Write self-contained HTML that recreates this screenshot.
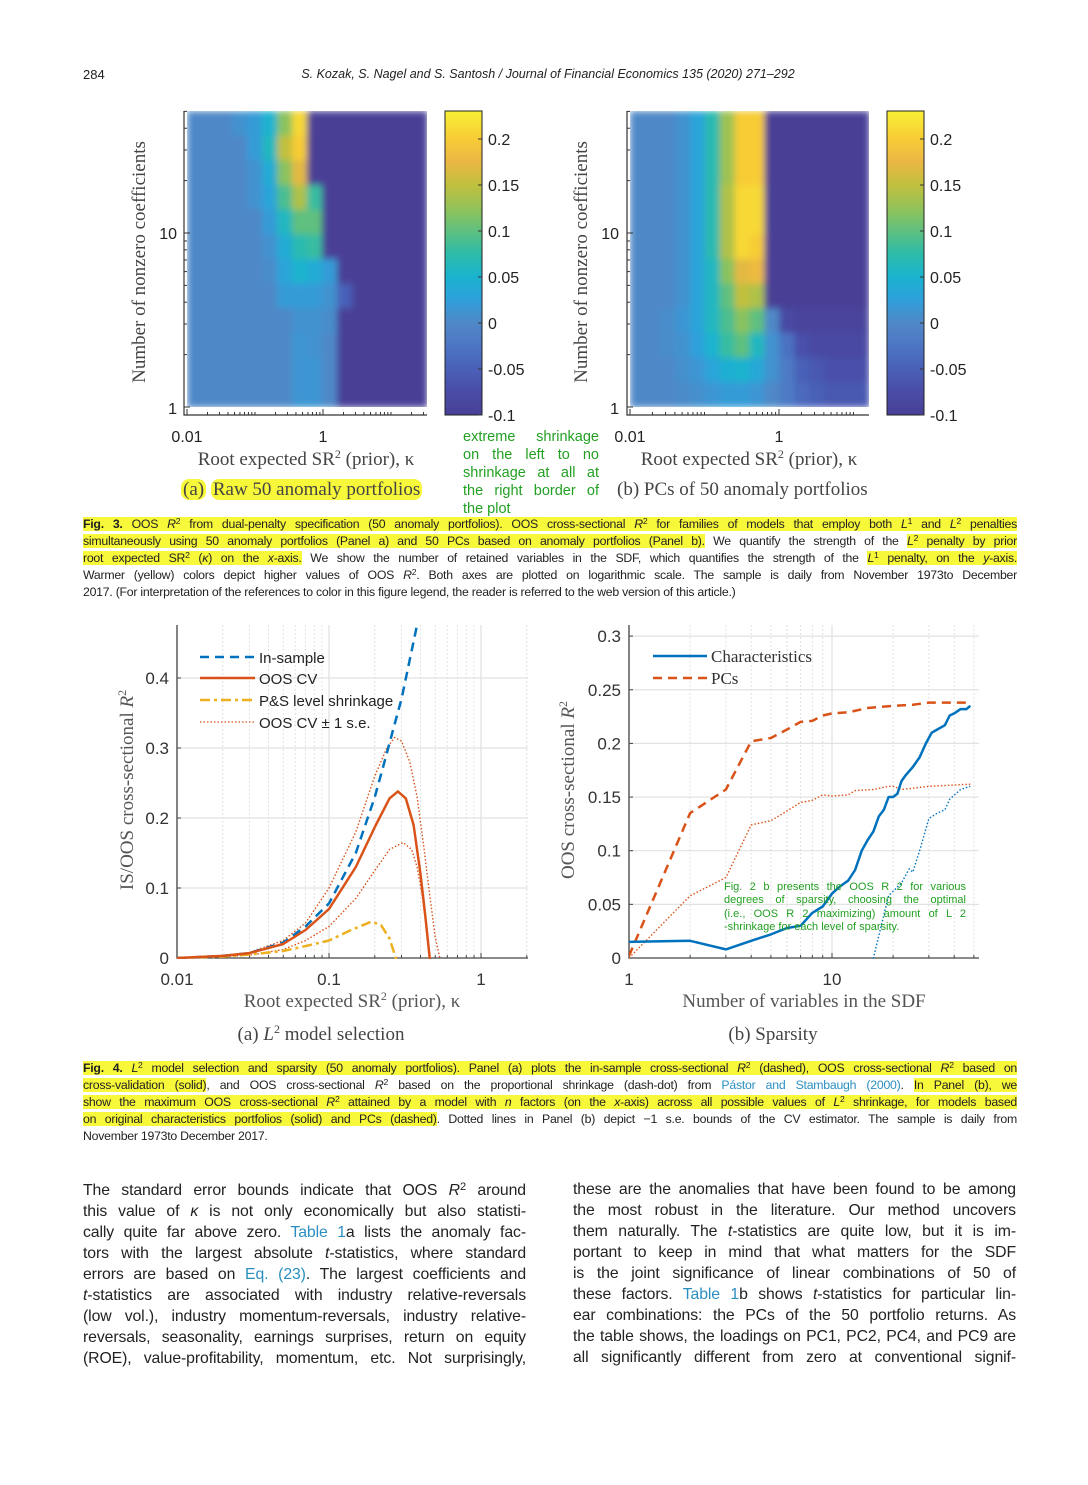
<!DOCTYPE html>
<html><head><meta charset="utf-8">
<style>
html,body{margin:0;padding:0;background:#fff;}
body{width:1088px;height:1485px;position:relative;overflow:hidden;font-family:"Liberation Sans",sans-serif;color:#222;}
.abs{position:absolute;}
sup{font-size:70%;line-height:0;vertical-align:0.45em;}
.cap{position:absolute;left:83px;width:934px;font-size:12.3px;letter-spacing:-0.25px;line-height:17px;height:17px;white-space:nowrap;text-align:justify;text-align-last:justify;color:#222;}
.cap.last{text-align:left;text-align-last:left;}
.hl{background:#f8f83a;}
.body{position:absolute;width:443px;font-size:15.8px;letter-spacing:-0.1px;line-height:20.9px;height:21px;white-space:nowrap;text-align:justify;text-align-last:justify;color:#222;}
.lnk{color:#2a8fc0;}
.green{position:absolute;color:#22a022;font-size:14.5px;line-height:18px;width:136px;white-space:nowrap;text-align:justify;text-align-last:justify;}
svg text{font-family:"Liberation Sans",sans-serif;}
</style></head>
<body>
<div class="abs" style="left:83px;top:67px;font-size:13px;">284</div>
<div class="abs" style="left:0;width:1088px;top:67px;font-size:12.5px;font-style:italic;text-align:center;padding-left:8px;box-sizing:border-box;">S. Kozak, S. Nagel and S. Santosh / Journal of Financial Economics 135 (2020) 271–292</div>

<svg id="fig" width="1088" height="1485" style="position:absolute;left:0;top:0;">
<defs>
<clipPath id="clipA"><rect x="177" y="622" width="352" height="337"/></clipPath>
<clipPath id="clipB"><rect x="629" y="622" width="351" height="337"/></clipPath>
<clipPath id="clipHA"><rect x="187" y="111" width="240" height="296"/></clipPath>
<clipPath id="clipHB"><rect x="630" y="111" width="239" height="296"/></clipPath>
<filter id="soft" x="-5%" y="-5%" width="110%" height="110%"><feGaussianBlur stdDeviation="3.5" edgeMode="duplicate"/></filter>
<linearGradient id="cbar" x1="0" y1="1" x2="0" y2="0"></linearGradient>
</defs>
<g id="heatA"></g>
<g id="heatB"></g>
<g id="chartA"></g>
<g id="chartB"></g>

<text transform="translate(145,262) rotate(-90)" text-anchor="middle" style="font-family:'Liberation Serif',serif" font-size="19" fill="#444">Number of nonzero coefficients</text>
<text x="177" y="239" text-anchor="end" font-size="16" fill="#222">10</text>
<text x="177" y="414" text-anchor="end" font-size="16" fill="#222">1</text>
<text x="187" y="442" text-anchor="middle" font-size="16" fill="#222">0.01</text>
<text x="323" y="442" text-anchor="middle" font-size="16" fill="#222">1</text>
<text x="306" y="465" text-anchor="middle" style="font-family:'Liberation Serif',serif" font-size="19" fill="#444">Root expected SR<tspan dy="-7" font-size="12">2</tspan><tspan dy="7"> (prior), κ</tspan></text>
<text transform="translate(587,262) rotate(-90)" text-anchor="middle" style="font-family:'Liberation Serif',serif" font-size="19" fill="#444">Number of nonzero coefficients</text>
<text x="619" y="239" text-anchor="end" font-size="16" fill="#222">10</text>
<text x="619" y="414" text-anchor="end" font-size="16" fill="#222">1</text>
<text x="630" y="442" text-anchor="middle" font-size="16" fill="#222">0.01</text>
<text x="779" y="442" text-anchor="middle" font-size="16" fill="#222">1</text>
<text x="749" y="465" text-anchor="middle" style="font-family:'Liberation Serif',serif" font-size="19" fill="#444">Root expected SR<tspan dy="-7" font-size="12">2</tspan><tspan dy="7"> (prior), κ</tspan></text>

<text transform="translate(133,790) rotate(-90)" text-anchor="middle" style="font-family:'Liberation Serif',serif" font-size="19" fill="#555">IS/OOS cross-sectional <tspan font-style="italic">R</tspan><tspan dy="-7" font-size="12">2</tspan></text>
<text x="352" y="1007" text-anchor="middle" style="font-family:'Liberation Serif',serif" font-size="19" fill="#555">Root expected SR<tspan dy="-7" font-size="12">2</tspan><tspan dy="7"> (prior), κ</tspan></text>
<text x="321" y="1040" text-anchor="middle" style="font-family:'Liberation Serif',serif" font-size="19" fill="#444">(a) <tspan font-style="italic">L</tspan><tspan dy="-7" font-size="12">2</tspan><tspan dy="7"> model selection</tspan></text>
<text transform="translate(574,790) rotate(-90)" text-anchor="middle" style="font-family:'Liberation Serif',serif" font-size="19" fill="#555">OOS cross-sectional <tspan font-style="italic">R</tspan><tspan dy="-7" font-size="12">2</tspan></text>
<text x="804" y="1007" text-anchor="middle" style="font-family:'Liberation Serif',serif" font-size="19" fill="#555">Number of variables in the SDF</text>
<text x="773" y="1040" text-anchor="middle" style="font-family:'Liberation Serif',serif" font-size="19" fill="#444">(b) Sparsity</text>
</svg>

<div class="abs" style="left:181px;top:478px;font-family:'Liberation Serif',serif;font-size:19px;line-height:24px;color:#444;"><span class="hl" style="border-radius:8px;padding:0 2px;">(a)</span> <span class="hl" style="border-radius:8px;padding:0 2px;">Raw 50 anomaly portfolios</span></div>
<div class="abs" style="left:617px;top:478px;font-family:'Liberation Serif',serif;font-size:19px;line-height:24px;color:#444;">(b) PCs of 50 anomaly portfolios</div>
<div class="green" style="left:463px;top:428px;">
<div>extreme shrinkage</div><div>on the left to no</div><div>shrinkage at all at</div><div>the right border of</div><div style="text-align-last:left">the plot</div></div>

<svg class="abs" style="left:195px;top:645px;" width="220" height="90">
<line x1="5" y1="12" x2="60" y2="12" stroke="#0072bd" stroke-width="2.5" stroke-dasharray="9,6"/>
<text x="64" y="18" font-size="15" fill="#222">In-sample</text>
<line x1="5" y1="33" x2="60" y2="33" stroke="#d95319" stroke-width="2.5"/>
<text x="64" y="39" font-size="15" fill="#222">OOS CV</text>
<line x1="5" y1="55" x2="60" y2="55" stroke="#edb120" stroke-width="2.5" stroke-dasharray="10,4,3,4"/>
<text x="64" y="61" font-size="15" fill="#222">P&amp;S level shrinkage</text>
<line x1="5" y1="77" x2="60" y2="77" stroke="#d95319" stroke-width="1.3" stroke-dasharray="1.5,2"/>
<text x="64" y="83" font-size="15" fill="#222">OOS CV ± 1 s.e.</text>
</svg>
<svg class="abs" style="left:648px;top:644px;" width="200" height="50">
<line x1="5" y1="12" x2="59" y2="12" stroke="#0072bd" stroke-width="2.5"/>
<text x="63" y="18" font-size="17" style="font-family:'Liberation Serif',serif" fill="#333">Characteristics</text>
<line x1="5" y1="34" x2="59" y2="34" stroke="#d95319" stroke-width="2.5" stroke-dasharray="9,6"/>
<text x="63" y="40" font-size="17" style="font-family:'Liberation Serif',serif" fill="#333">PCs</text>
</svg>
<div class="abs" style="left:724px;top:881px;width:242px;font-size:11px;line-height:13.4px;color:#22a022;">
<div style="text-align:justify;text-align-last:justify;white-space:nowrap">Fig. 2 b presents the OOS R 2 for various</div>
<div style="text-align:justify;text-align-last:justify;white-space:nowrap">degrees of sparsity, choosing the optimal</div>
<div style="text-align:justify;text-align-last:justify;white-space:nowrap">(i.e., OOS R 2 maximizing) amount of L 2</div>
<div style="white-space:nowrap">-shrinkage for each level of sparsity.</div>
</div>

<div>
<div class="cap" style="top:516px;"><span class="hl"><b>Fig. 3.</b> OOS <i>R</i><sup>2</sup> from dual-penalty specification (50 anomaly portfolios). OOS cross-sectional <i>R</i><sup>2</sup> for families of models that employ both <i>L</i><sup>1</sup> and <i>L</i><sup>2</sup> penalties</span></div>
<div class="cap" style="top:533px;"><span class="hl">simultaneously using 50 anomaly portfolios (Panel a) and 50 PCs based on anomaly portfolios (Panel b).</span> We quantify the strength of the <span class="hl"><i>L</i><sup>2</sup> penalty by prior</span></div>
<div class="cap" style="top:550px;"><span class="hl">root expected SR<sup>2</sup> (<i>κ</i>) on the <i>x</i>-axis.</span> We show the number of retained variables in the SDF, which quantifies the strength of the <span class="hl"><i>L</i><sup>1</sup> penalty, on the <i>y</i>-axis.</span></div>
<div class="cap" style="top:567px;">Warmer (yellow) colors depict higher values of OOS <i>R</i><sup>2</sup>. Both axes are plotted on logarithmic scale. The sample is daily from November 1973to December</div>
<div class="cap last" style="top:584px;">2017. (For interpretation of the references to color in this figure legend, the reader is referred to the web version of this article.)</div>
</div>

<div>
<div class="cap" style="top:1060px;"><span class="hl"><b>Fig. 4.</b> <i>L</i><sup>2</sup> model selection and sparsity (50 anomaly portfolios). Panel (a) plots the in-sample cross-sectional <i>R</i><sup>2</sup> (dashed), OOS cross-sectional <i>R</i><sup>2</sup> based on</span></div>
<div class="cap" style="top:1077px;"><span class="hl">cross-validation (solid)</span>, and OOS cross-sectional <i>R</i><sup>2</sup> based on the proportional shrinkage (dash-dot) from <span class="lnk">Pástor and Stambaugh (2000)</span>. <span class="hl">In Panel (b), we</span></div>
<div class="cap" style="top:1094px;"><span class="hl">show the maximum OOS cross-sectional <i>R</i><sup>2</sup> attained by a model with <i>n</i> factors (on the <i>x</i>-axis) across all possible values of <i>L</i><sup>2</sup> shrinkage, for models based</span></div>
<div class="cap" style="top:1111px;"><span class="hl">on original characteristics portfolios (solid) and PCs (dashed)</span>. Dotted lines in Panel (b) depict −1 s.e. bounds of the CV estimator. The sample is daily from</div>
<div class="cap last" style="top:1128px;">November 1973to December 2017.</div>
</div>

<div>
<div class="body" style="left:83px;top:1181px;">The standard error bounds indicate that OOS <i>R</i><sup>2</sup> around</div>
<div class="body" style="left:83px;top:1202px;">this value of <i>κ</i> is not only economically but also statisti-</div>
<div class="body" style="left:83px;top:1223px;">cally quite far above zero. <span class="lnk">Table 1</span>a lists the anomaly fac-</div>
<div class="body" style="left:83px;top:1244px;">tors with the largest absolute <i>t</i>-statistics, where standard</div>
<div class="body" style="left:83px;top:1265px;">errors are based on <span class="lnk">Eq. (23)</span>. The largest coefficients and</div>
<div class="body" style="left:83px;top:1286px;"><i>t</i>-statistics are associated with industry relative-reversals</div>
<div class="body" style="left:83px;top:1307px;">(low vol.), industry momentum-reversals, industry relative-</div>
<div class="body" style="left:83px;top:1328px;">reversals, seasonality, earnings surprises, return on equity</div>
<div class="body" style="left:83px;top:1349px;">(ROE), value-profitability, momentum, etc. Not surprisingly,</div>
</div>
<div>
<div class="body" style="left:573px;top:1180px;">these are the anomalies that have been found to be among</div>
<div class="body" style="left:573px;top:1201px;">the most robust in the literature. Our method uncovers</div>
<div class="body" style="left:573px;top:1222px;">them naturally. The <i>t</i>-statistics are quite low, but it is im-</div>
<div class="body" style="left:573px;top:1243px;">portant to keep in mind that what matters for the SDF</div>
<div class="body" style="left:573px;top:1264px;">is the joint significance of linear combinations of 50 of</div>
<div class="body" style="left:573px;top:1285px;">these factors. <span class="lnk">Table 1</span>b shows <i>t</i>-statistics for particular lin-</div>
<div class="body" style="left:573px;top:1306px;">ear combinations: the PCs of the 50 portfolio returns. As</div>
<div class="body" style="left:573px;top:1327px;">the table shows, the loadings on PC1, PC2, PC4, and PC9 are</div>
<div class="body" style="left:573px;top:1348px;">all significantly different from zero at conventional signif-</div>
</div>

<script>
const heatRowsA = [
 [0,0,0,0.01,0.02,0.05,0.12,0.21,-0.1,-0.1,-0.1,-0.1,-0.1,-0.1,-0.1,-0.1],
 [0,0,0,0,0.02,0.06,0.15,0.2,-0.1,-0.1,-0.1,-0.1,-0.1,-0.1,-0.1,-0.1],
 [0,0,0,0,0.01,0.04,0.12,0.17,-0.1,-0.1,-0.1,-0.1,-0.1,-0.1,-0.1,-0.1],
 [0,0,0,0,0.01,0.03,0.09,0.14,0.08,-0.1,-0.1,-0.1,-0.1,-0.1,-0.1,-0.1],
 [0,0,0,0,0,0.02,0.06,0.1,0.1,-0.1,-0.1,-0.1,-0.1,-0.1,-0.1,-0.1],
 [0,0,0,0,0,0.01,0.04,0.07,0.08,-0.1,-0.1,-0.1,-0.1,-0.1,-0.1,-0.1],
 [0,0,0,0,0,0.005,0.03,0.05,0.04,0.02,-0.1,-0.1,-0.1,-0.1,-0.1,-0.1],
 [0,0,0,0,0,0,0.02,0.02,0.02,0.01,-0.05,-0.1,-0.1,-0.1,-0.1,-0.1],
 [0,0,0,0,0,0,0,0.01,0.01,0.005,-0.1,-0.1,-0.1,-0.1,-0.1,-0.1],
 [0,0,0,0,0,0,0,0.015,0.01,0,-0.1,-0.1,-0.1,-0.1,-0.1,-0.1],
 [0,0,0,0,0,0,0,0.015,0.015,0,-0.1,-0.1,-0.1,-0.1,-0.1,-0.1],
 [0,0,0,0,0,0,0,0.015,0.015,0,-0.1,-0.1,-0.1,-0.1,-0.1,-0.1]
];
const heatRowsB = [
 [0,0,0,0.01,0.03,0.07,0.13,0.2,0.2,-0.1,-0.1,-0.1,-0.1,-0.1,-0.1,-0.1],
 [0,0,0,0.01,0.03,0.07,0.13,0.2,0.2,-0.1,-0.1,-0.1,-0.1,-0.1,-0.1,-0.1],
 [0,0,0,0.01,0.03,0.07,0.13,0.2,0.2,-0.1,-0.1,-0.1,-0.1,-0.1,-0.1,-0.1],
 [0,0,0,0.01,0.03,0.07,0.14,0.21,0.21,-0.1,-0.1,-0.1,-0.1,-0.1,-0.1,-0.1],
 [0,0,0,0.01,0.03,0.07,0.14,0.21,0.21,-0.1,-0.1,-0.1,-0.1,-0.1,-0.1,-0.1],
 [0,0,0,0.01,0.03,0.07,0.14,0.21,0.2,-0.1,-0.1,-0.1,-0.1,-0.1,-0.1,-0.1],
 [0,0,0,0.01,0.03,0.06,0.12,0.17,0.18,-0.1,-0.1,-0.1,-0.1,-0.1,-0.1,-0.1],
 [0,0,0,0.01,0.03,0.06,0.1,0.15,0.14,-0.1,-0.1,-0.1,-0.1,-0.1,-0.1,-0.1],
 [0,0,0.005,0.015,0.03,0.06,0.09,0.12,0.1,0,-0.08,-0.09,-0.09,-0.09,-0.09,-0.09],
 [0,0,0.005,0.01,0.025,0.05,0.08,0.1,0.06,0.01,-0.03,-0.07,-0.08,-0.08,-0.08,-0.08],
 [0,0,0,0.008,0.015,0.03,0.045,0.05,0.035,0.01,-0.02,-0.05,-0.06,-0.07,-0.07,-0.07],
 [0,0,0,0.003,0.008,0.015,0.02,0.02,0.015,0,-0.02,-0.04,-0.05,-0.06,-0.06,-0.06]
];
const colorbarTicks = [0.2,0.15,0.1,0.05,0,-0.05,-0.1];
const colorbarTickLabels = ['0.2','0.15','0.1','0.05','0','-0.05','-0.1'];

const kappaIS = [0.01,0.02,0.03,0.05,0.07,0.1,0.15,0.2,0.227,0.264,0.3,0.38,0.42];
const valIS   = [0,0.003,0.007,0.022,0.045,0.078,0.15,0.23,0.273,0.326,0.37,0.476,0.53];
const kappaCV = [0.01,0.02,0.03,0.05,0.07,0.1,0.15,0.2,0.25,0.284,0.32,0.36,0.4,0.43,0.46,0.48];
const valCV   = [0,0.003,0.007,0.02,0.04,0.07,0.13,0.187,0.228,0.238,0.228,0.19,0.12,0.06,0,-0.04];
const kappaUp = [0.01,0.02,0.03,0.05,0.07,0.1,0.15,0.2,0.24,0.27,0.3,0.34,0.38,0.42,0.46,0.5,0.536,0.56];
const valUp   = [0,0.003,0.008,0.025,0.05,0.1,0.18,0.26,0.3,0.315,0.31,0.28,0.23,0.16,0.09,0.03,0,-0.03];
const kappaLo = [0.01,0.02,0.03,0.05,0.07,0.1,0.15,0.2,0.25,0.307,0.35,0.38,0.41,0.44,0.46,0.48];
const valLo   = [0,0.002,0.004,0.012,0.025,0.045,0.085,0.125,0.155,0.165,0.155,0.13,0.09,0.04,0,-0.03];
const kappaPS = [0.01,0.02,0.03,0.05,0.07,0.1,0.14,0.19,0.22,0.25,0.275,0.29];
const valPS   = [0,0.002,0.005,0.01,0.017,0.025,0.04,0.052,0.047,0.028,0,-0.02];
const yTicksA = [0,0.1,0.2,0.3,0.4];
const yTickLabelsA = ['0','0.1','0.2','0.3','0.4'];
const xTicksA = [0.01,0.1,1];
const xTickLabelsA = ['0.01','0.1','1'];

const nChar = [1,2,3,4,5,6,7,8,9,10,11,12,13,14,15,16,17,18,19,20,21,22,23,25,27,29,31,33,36,38,40,43,46,48];
const valChar = [0.015,0.016,0.008,0.016,0.022,0.028,0.03,0.042,0.048,0.06,0.067,0.072,0.082,0.1,0.11,0.118,0.132,0.138,0.15,0.15,0.153,0.165,0.17,0.178,0.187,0.2,0.21,0.213,0.217,0.226,0.228,0.232,0.232,0.235];
const nPC = [1,2,3,4,5,6,7,8,9,10,12,15,20,25,30,48];
const valPC = [0.002,0.135,0.157,0.202,0.205,0.213,0.22,0.221,0.226,0.228,0.229,0.233,0.235,0.236,0.238,0.238];
const nPCLo = [1,2,3,4,5,6,7,8,9,10,12,13,16,19,20,22,30,48];
const valPCLo = [0,0.058,0.075,0.124,0.128,0.137,0.145,0.147,0.152,0.151,0.152,0.156,0.157,0.16,0.16,0.157,0.16,0.162];
const nCharLo = [15.5,16,18,19,22,24,25,27,30,33,36,38,43,48];
const valCharLo = [-0.02,0,0.04,0.058,0.07,0.083,0.08,0.1,0.13,0.135,0.138,0.148,0.157,0.16];
const yTicksB = [0,0.05,0.1,0.15,0.2,0.25,0.3];
const yTickLabelsB = ['0','0.05','0.1','0.15','0.2','0.25','0.3'];
const xTicksB = [1,10];
const xTickLabelsB = ['1','10'];

const NS = document.getElementById('fig').namespaceURI;
function mk(tag, parent){ const e = document.createElementNS(NS, tag); parent.appendChild(e); return e; }
function attrs(e, a){ for (const k in a) e.setAttribute(k, a[k]); }
const cStops = [[-0.1,[72,64,150]],[-0.075,[74,76,166]],[-0.05,[74,96,184]],[-0.025,[76,118,196]],[0,[80,136,199]],[0.025,[47,160,219]],[0.05,[26,179,207]],[0.075,[45,188,169]],[0.1,[95,192,127]],[0.125,[147,194,87]],[0.15,[193,192,62]],[0.175,[235,183,68]],[0.2,[247,204,53]],[0.23,[248,240,54]]];
function cmap(v){
  if (v <= cStops[0][0]) return 'rgb('+cStops[0][1].join(',')+')';
  for (let i=1;i<cStops.length;i++){
    if (v <= cStops[i][0]){
      const a=cStops[i-1], b=cStops[i], t=(v-a[0])/(b[0]-a[0]);
      return 'rgb('+a[1].map((c,j)=>Math.round(c+(b[1][j]-c)*t)).join(',')+')';
    }
  }
  return 'rgb('+cStops[cStops.length-1][1].join(',')+')';
}
const grad = document.getElementById('cbar');
cStops.forEach(s=>{
  const st = mk('stop', grad);
  attrs(st, {offset: ((s[0]+0.1)/0.33*100)+'%', 'stop-color': cmap(s[0])});
});

function heatmap(g, rows, x0, x1, cbx, decadeW, yAxisX, clipId){
  const y0 = 111, y1 = 407;
  const nr = rows.length, nc = rows[0].length;
  const cw = (x1-x0)/nc, rh = (y1-y0)/nr;
  const outer = mk('g', g);
  attrs(outer, {'clip-path':'url(#'+clipId+')'});
  
  
  const cells = mk('g', outer);
  attrs(cells, {filter:'url(#soft)'});
  
  
  rows.forEach((row, r)=>{
    row.forEach((v, c)=>{
      const rc = mk('rect', cells);
      attrs(rc, {x: x0+c*cw, y: y0+r*rh, width: cw+0.6, height: rh+0.6, fill: cmap(v)});
      
      
    });
  });
  const ax = mk('path', g);
  attrs(ax, {d:'M'+yAxisX+' 111V415H'+x1, fill:'none', stroke:'#333', 'stroke-width':1.2});
  
  
  for (let n=1;n<=50;n++){
    const lg = Math.log10(n);
    if (n>10 && n%10!==0) continue;
    const y = 407 - lg*174;
    const t = mk('line', g);
    const len = (n===1||n===10)?6:3;
    attrs(t, {x1:yAxisX, x2:yAxisX+len, y1:y, y2:y, stroke:'#333', 'stroke-width':1});
    
    
  }
  for (let d=-2; d<2; d++){
    for (let m=1;m<10;m++){
      const k = m*Math.pow(10,d);
      const x = x0 + (Math.log10(k)+2)*decadeW;
      if (x > x1) continue;
      const t = mk('line', g);
      const len = (m===1 && d%2===0)?6:3;
      attrs(t, {x1:x, x2:x, y1:415, y2:415-len, stroke:'#333', 'stroke-width':1});
      
      
    }
  }
  const cb = mk('rect', g);
  attrs(cb, {x:cbx, y:111, width:37, height:304, fill:'url(#cbar)', stroke:'#222', 'stroke-width':1});
  
  
  colorbarTicks.forEach((v,i)=>{
    const y = 415 - (v+0.1)/0.05*46;
    const tk = mk('line', g);
    attrs(tk, {x1:cbx+33, x2:cbx+37, y1:y, y2:y, stroke:'#333'});
    
    
    const tx = mk('text', g);
    attrs(tx, {x:cbx+43, y:y+6, 'font-size':16, fill:'#222'});
    tx.textContent = colorbarTickLabels[i];
    
    
  });
}
heatmap(document.getElementById('heatA'), heatRowsA, 187, 427, 445, 68, 184, 'clipHA');
heatmap(document.getElementById('heatB'), heatRowsB, 630, 869, 887, 74.5, 627, 'clipHB');

function lineChart(g, opt){
  const {xs, ys, xL, xR, yT, yB, xmin, xmaxDec, yTicks, yLabels, xTicks, xLabels} = opt;
  yTicks.forEach((v,i)=>{
    const y = ys(v);
    if (v>0){
      const gl = mk('line', g);
      attrs(gl, {x1:xL, x2:xR, y1:y, y2:y, stroke:'#e2e2e2', 'stroke-width':1.2});
      
      
    }
    const tk = mk('line', g);
    attrs(tk, {x1:xL, x2:xL+4, y1:y, y2:y, stroke:'#444'});
    
    
    const tx = mk('text', g);
    attrs(tx, {x:xL-8, y:y+6, 'text-anchor':'end', 'font-size':17, fill:'#333'});
    tx.textContent = yLabels[i];
    
    
  });
  for (let d=xmin; d<xmaxDec; d++){
    for (let m=1;m<10;m++){
      const k = m*Math.pow(10,d);
      const x = xs(k);
      if (x > xR+1 || x < xL) continue;
      const major = (m===1);
      const gl = mk('line', g);
      attrs(gl, {x1:x, x2:x, y1:yT, y2:yB, stroke: major?'#e0e0e0':'#d8d8d8', 'stroke-width': major?1.2:1, 'stroke-dasharray': major?'':'1.5,2.5'});
      
      
      const tk = mk('line', g);
      attrs(tk, {x1:x, x2:x, y1:yB, y2:yB-(major?5:3), stroke:'#444'});
      
      
    }
  }
  xTicks.forEach((k,i)=>{
    const tx = mk('text', g);
    attrs(tx, {x:xs(k), y:yB+27, 'text-anchor':'middle', 'font-size':17, fill:'#333'});
    tx.textContent = xLabels[i];
    
    
  });
  const ax = mk('path', g);
  attrs(ax, {d:'M'+xL+' '+yT+'V'+yB+'H'+xR, fill:'none', stroke:'#444', 'stroke-width':1.3});
  
  
}
function series(g, xs, ys, X, Y, style, clip, name){
  const p = mk('path', g);
  const d = X.map((x,i)=>(i?'L':'M')+xs(x).toFixed(1)+' '+ys(Y[i]).toFixed(1)).join('');
  attrs(p, Object.assign({d:d, fill:'none', 'clip-path':'url(#'+clip+')', 'stroke-linejoin':'round'}, style));
  
  
}
const xA = k => 177 + (Math.log10(k)+2)*152;
const yA = v => 958 - v*700;
const gA = document.getElementById('chartA');
lineChart(gA, {xs:xA, ys:yA, xL:177, xR:528, yT:625, yB:958, xmin:-2, xmaxDec:1, yTicks:yTicksA, yLabels:yTickLabelsA, xTicks:xTicksA, xLabels:xTickLabelsA});
series(gA, xA, yA, kappaUp, valUp, {stroke:'#d95319','stroke-width':1.4,'stroke-dasharray':'1.5,2'}, 'clipA', 'oos-cv-upper-se-line');
series(gA, xA, yA, kappaLo, valLo, {stroke:'#d95319','stroke-width':1.4,'stroke-dasharray':'1.5,2'}, 'clipA', 'oos-cv-lower-se-line');
series(gA, xA, yA, kappaPS, valPS, {stroke:'#edb120','stroke-width':2.5,'stroke-dasharray':'10,4,3,4'}, 'clipA', 'ps-shrinkage-line');
series(gA, xA, yA, kappaIS, valIS, {stroke:'#0072bd','stroke-width':2.5,'stroke-dasharray':'9,6'}, 'clipA', 'in-sample-line');
series(gA, xA, yA, kappaCV, valCV, {stroke:'#d95319','stroke-width':2.5}, 'clipA', 'oos-cv-line');
const xB = n => 629 + Math.log10(n)*203;
const yB = v => 958 - v*1073;
const gB = document.getElementById('chartB');
lineChart(gB, {xs:xB, ys:yB, xL:629, xR:979, yT:625, yB:958, xmin:0, xmaxDec:2, yTicks:yTicksB, yLabels:yTickLabelsB, xTicks:xTicksB, xLabels:xTickLabelsB});
series(gB, xB, yB, nPCLo, valPCLo, {stroke:'#d95319','stroke-width':1.4,'stroke-dasharray':'1.5,2'}, 'clipB', 'pcs-lower-se-line');
series(gB, xB, yB, nCharLo, valCharLo, {stroke:'#0072bd','stroke-width':1.4,'stroke-dasharray':'1.5,2'}, 'clipB', 'characteristics-lower-se-line');
series(gB, xB, yB, nPC, valPC, {stroke:'#d95319','stroke-width':2.5,'stroke-dasharray':'9,6'}, 'clipB', 'pcs-line');
series(gB, xB, yB, nChar, valChar, {stroke:'#0072bd','stroke-width':2.5}, 'clipB', 'characteristics-line');
</script>
</body></html>
